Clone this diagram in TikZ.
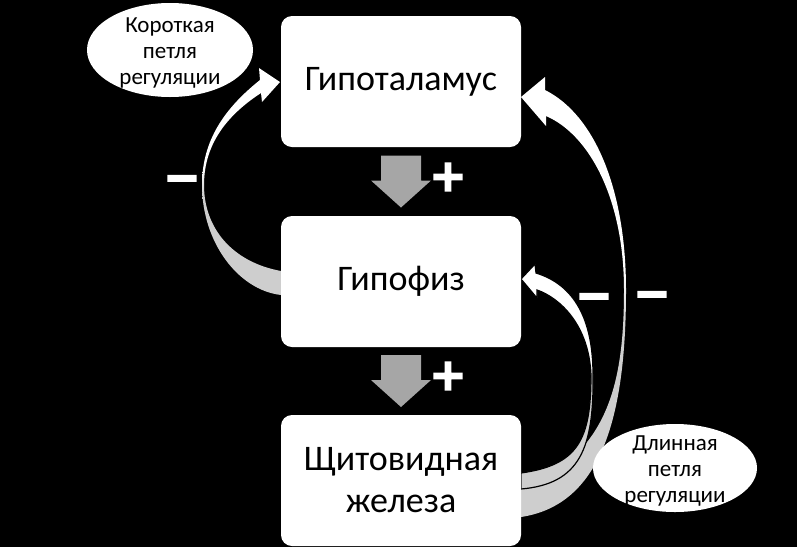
\documentclass[tikz,border=0pt]{standalone}
\usepackage{fontspec}
\setmainfont{Carlito}
\newfontfamily\signfont[UprightFont={* Bold}, FakeBold=4]{DejaVu Sans}
\usetikzlibrary{shapes.geometric,calc}
\definecolor{lgray}{RGB}{206,206,206}
\definecolor{mgray}{RGB}{166,166,166}
\pgfdeclareverticalshading{tailfade}{100bp}{color(0bp)=(lgray); color(47bp)=(lgray); color(53bp)=(white); color(100bp)=(white)}
\begin{document}
\begin{tikzpicture}[x=1pt,y=-1pt,
  box/.style={fill=white, rounded corners=11pt, minimum width=240pt, minimum height=131pt, inner sep=0pt, align=center, font=\fontsize{36}{42}\selectfont},
  oval/.style={ellipse, fill=white, inner sep=0pt},
  ovaltext/.style={inner sep=0pt, align=center, yshift=-3pt, font=\fontsize{23}{26}\selectfont},
  sign/.style={text=white, inner sep=0pt, font=\signfont\fontsize{44}{44}\selectfont},
  curved/.style={shading=tailfade},
  pics/downarrow/.style={code={\fill[mgray] (-20,-26) -- (20,-26) -- (20,-1) -- (30,-1) -- (0,26) -- (-30,-1) -- (-20,-1) -- cycle;}}
]
\useasboundingbox[fill=black] (0,0) rectangle (797,547);

% curved feedback arrows
\path[curved] (281,295) .. controls (238,290) and (202,242) .. (202,185) .. controls (202,140) and (225,108) .. (260,80) -- (259,68) -- (280,82) -- (262,102) -- (261,93) .. controls (232,112) and (204,140) .. (204,185) .. controls (204,228) and (232,262) .. (281,271) -- cycle;
\path[curved] (521,517) .. controls (600,505) and (626,420) .. (626,290) .. controls (626,190) and (595,115) .. (545,90) -- (545,77) -- (521,97) -- (546,126) -- (546,116) .. controls (590,135) and (624,200) .. (624,290) .. controls (624,390) and (605,455) .. (521,489) -- cycle;
\path[curved, draw=black, line width=1.2pt] (521,489) .. controls (580,484) and (594,448) .. (593,375) .. controls (593,320) and (575,285) .. (536,273) -- (535,264) -- (521,279) -- (537,298) -- (537,290) .. controls (560,298) and (589,325) .. (591,375) .. controls (591,440) and (578,465) .. (521,473) -- cycle;

% boxes
\node[box] (hyp) at (401,81.5) {Гипоталамус};
\node[box] (pit) at (401,281.5) {Гипофиз};
\node[box] (thy) at (401,480.5) {Щитовидная\\железа};

% block arrows
\coordinate (a1) at ($(hyp.south)!0.5!(pit.north)$);
\coordinate (a2) at ($(pit.south)!0.5!(thy.north)$);
\pic at (a1) {downarrow};
\pic at (a2) {downarrow};

% signs
\node[sign] (p1) at (448,177) {+};
\node[sign] (p2) at (448,376) {+};
\node[sign] (m1) at (182,184) {−};
\node[sign] (m2) at (594,302) {−};
\node[sign] (m3) at (652,300) {−};

% ovals
\node[oval, minimum width=166pt, minimum height=94pt] (short) at (170,50) {};
\node[ovaltext] (shorttext) at (short.center) {Короткая\\петля\\регуляции};
\node[oval, minimum width=164pt, minimum height=88pt] (long) at (675,468) {};
\node[ovaltext] (longtext) at (long.center) {Длинная\\петля\\регуляции};
\end{tikzpicture}
\end{document}
